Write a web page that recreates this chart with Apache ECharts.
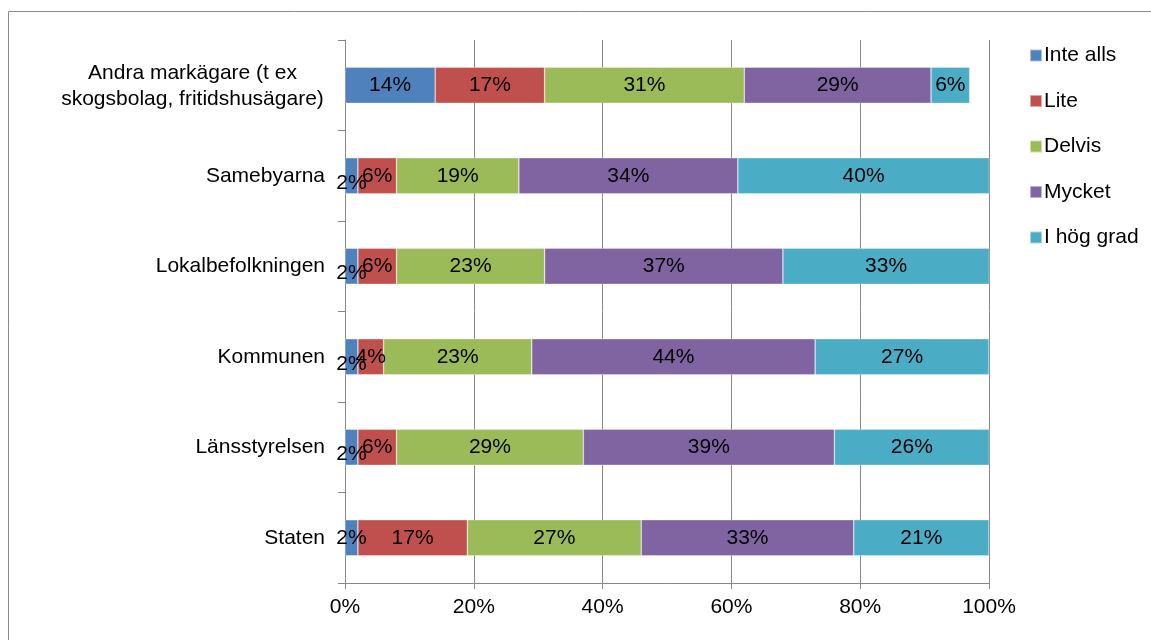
<!DOCTYPE html>
<html>
<head>
<meta charset="utf-8">
<script src="https://cdn.jsdelivr.net/npm/echarts@6/dist/echarts.min.js"></script>
<style>
html,body{margin:0;padding:0;background:#fff;}
#chart{width:1151px;height:640px;}
</style>
</head>
<body>
<div id="chart"></div>
<script>
// Categories bottom to top
const categories = ['Staten', 'Länsstyrelsen', 'Kommunen', 'Lokalbefolkningen', 'Samebyarna', 'Andra markägare (t ex\nskogsbolag, fritidshusägare)'];
const seriesNames = ['Inte alls', 'Lite', 'Delvis', 'Mycket', 'I hög grad'];
const inteAlls = [2, 2, 2, 2, 2, 14];
const lite     = [17, 6, 4, 6, 6, 17];
const delvis   = [27, 29, 23, 23, 19, 31];
const mycket   = [33, 39, 44, 37, 34, 29];
const iHogGrad = [21, 26, 27, 33, 40, 6];
const xTicks = [0, 20, 40, 60, 80, 100];

const colors = ['#4F81BD', '#C0504D', '#9BBB59', '#8064A2', '#4BACC6'];
const values = [inteAlls, lite, delvis, mycket, iHogGrad];
const FONT = '"Liberation Sans", Arial, sans-serif';
const FS = 21;

const chart = echarts.init(document.getElementById('chart'), null, {renderer: 'canvas'});

const series = seriesNames.map((name, si) => ({
  name: name,
  type: 'bar',
  stack: 'total',
  barWidth: 36,
  itemStyle: {color: colors[si], borderColor: 'rgba(255,255,255,0.5)', borderWidth: 0.6},
  label: {
    show: true,
    position: 'inside',
    color: '#000',
    fontSize: FS,
    fontFamily: FONT,
    formatter: p => p.value + '%'
  },
  data: values[si].map((v, i) => {
    const item = {value: v};
    if (v < 3 && i > 0) item.label = {offset: [0, 7]};
    return item;
  })
}));

chart.setOption({
  animation: false,
  backgroundColor: '#fff',
  textStyle: {fontFamily: FONT},
  graphic: [{
    type: 'rect',
    shape: {x: 8.5, y: 11.5, width: 1300, height: 800},
    style: {fill: 'none', stroke: '#8a8a8a', lineWidth: 1},
    silent: true,
    z: -10
  }],
  grid: {left: 345, right: 162, top: 40, bottom: 57, containLabel: false},
  legend: {
    orient: 'vertical',
    left: 1029,
    top: 45,
    padding: 0,
    itemWidth: 12,
    itemHeight: 12,
    itemGap: 24.5,
    icon: 'rect',
    textStyle: {fontSize: FS, fontFamily: FONT, color: '#000', lineHeight: 21, padding: [0, 0, 0, -3]},
    data: seriesNames
  },
  xAxis: {
    type: 'value',
    min: 0,
    max: 100,
    interval: 20,
    axisLine: {show: true, lineStyle: {color: '#888', width: 1}},
    axisTick: {show: true, length: 6, lineStyle: {color: '#888'}},
    splitLine: {show: true, lineStyle: {color: '#888', width: 1}},
    axisLabel: {
      fontSize: FS, color: '#000', fontFamily: FONT, margin: 14,
      formatter: v => xTicks.includes(v) ? v + '%' : ''
    }
  },
  yAxis: {
    type: 'category',
    data: categories,
    axisLine: {show: true, lineStyle: {color: '#888', width: 1}},
    axisTick: {show: true, length: 7, lineStyle: {color: '#888'}},
    axisLabel: {
      fontSize: FS, color: '#000', fontFamily: FONT, margin: 20,
      formatter: v => v.indexOf('\n') >= 0 ? v.split('\n').map(s => '{c|' + s + '}').join('\n') : v,
      rich: {c: {fontSize: FS, fontFamily: FONT, color: '#000', width: 265, align: 'center', lineHeight: 26, padding: [2, 0, 0, 0]}}
    }
  },
  series: series
});
</script>
</body>
</html>
